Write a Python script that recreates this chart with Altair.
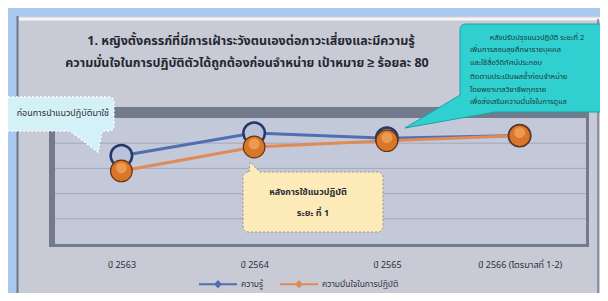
import altair as alt
import pandas as pd

# ---------------- data ----------------
years = ["ปี 2563", "ปี 2564", "ปี 2565", "ปี 2566 (ไตรมาสที่ 1-2)"]
series_names = ["ความรู้", "ความมั่นใจในการปฏิบัติ"]
knowledge = [85, 94, 92, 93]
confidence = [79, 88.5, 91, 93]
grid_values = [60, 70, 80, 90]

title_lines = [
    "1. หญิงตั้งครรภ์ที่มีการเฝ้าระวังตนเองต่อภาวะเสี่ยงและมีความรู้",
    "ความมั่นใจในการปฏิบัติตัวได้ถูกต้องก่อนจำหน่าย เป้าหมาย ≥ ร้อยละ 80",
]
left_note = "ก่อนการนำแนวปฏิบัติมาใช้"
mid_note = ["หลังการใช้แนวปฏิบัติ", "ระยะ ที่ 1"]
right_note = [
    "หลังปรับปรุงแนวปฏิบัติ ระยะที่ 2",
    "เพิ่มการสอนสุขศึกษารายบุคคล",
    "และใช้สื่อวีดิทัศน์ประกอบ",
    "ติดตามประเมินผลซ้ำก่อนจำหน่าย",
    "โดยพยาบาลวิชาชีพทุกราย",
    "เพื่อส่งเสริมความมั่นใจในการดูแล",
]

df = pd.DataFrame({
    "year": years * 2,
    "series": [series_names[0]] * len(years) + [series_names[1]] * len(years),
    "value": knowledge + confidence,
})
grid_df = pd.DataFrame({"v": grid_values})

FONT = "Noto Sans Thai, Loma, Garuda, Tahoma, Noto Sans, sans-serif"
BLUE = "#4f6fb2"
ORANGE = "#e08a55"
W, H = 531, 126

one = alt.Data(values=[{"k": 0}])


def rect(x, x2, y, y2, color):
    return alt.Chart(one).mark_rect(color=color, opacity=1).encode(
        x=alt.value(x), x2=alt.value(x2), y=alt.value(y), y2=alt.value(y2))


def rule(x, x2, y, y2, color, width):
    return alt.Chart(one).mark_rule(color=color, strokeWidth=width).encode(
        x=alt.value(x), x2=alt.value(x2), y=alt.value(y), y2=alt.value(y2))


def shape(path, fill, stroke, sw=1.0, dash=None):
    kw = dict(shape=path, size=4, filled=True, fill=fill, stroke=stroke,
              strokeWidth=sw, opacity=1)
    if dash:
        kw["strokeDash"] = dash
    return alt.Chart(one).mark_point(**kw).encode(x=alt.value(0), y=alt.value(0))


def text(s, x, y, size, color="#2b2b36", align="center", weight="normal"):
    return alt.Chart(one).mark_text(
        text=s, font=FONT, fontSize=size, color=color, align=align,
        baseline="middle", fontWeight=weight).encode(x=alt.value(x), y=alt.value(y))


# ---------------- decorations ----------------
frame = rect(-38, 560, -102, 190, "#c8cbd5")
frame_left = rule(-37.5, -37.5, -102, 190, "#6f7788", 2)
frame_top = rule(-36, 560, -99, -99, "#f4f6fa", 3)
frame_right = rule(543, 543, -99, 190, "#8a92a3", 2)

titles = [text(title_lines[0], 196, -77, 12.5, color="#262630", weight="bold"),
          text(title_lines[1], 192, -55, 12.5, color="#262630", weight="bold")]

band = rect(-6, 534, -11, 129, "#737a8c")
plot_fill = rect(0, W, 0, H, "#c3c9d9")

grid = alt.Chart(grid_df).mark_rule(color="#a0a8bb", strokeWidth=1).encode(
    y=alt.Y("v:Q", axis=None, scale=alt.Scale(domain=[50, 100])),
    x=alt.value(0), x2=alt.value(W))

# ---------------- data marks ----------------
xenc = alt.X("year:N", sort=years, scale=alt.Scale(type="point", padding=0.5),
             axis=alt.Axis(title=None, labelAngle=0, domain=False, ticks=False,
                           grid=False, labelPadding=16, labelFontSize=9,
                           labelColor="#2f2f3a", labelFont=FONT, labelLimit=250,
                           zindex=1))
yenc = alt.Y("value:Q", axis=None, scale=alt.Scale(domain=[50, 100]))

legend_sym = "M-1,0H1M-0.14,0L0,-0.14L0.14,0L0,0.14Z"
cenc = alt.Color("series:N", scale=alt.Scale(domain=series_names, range=[BLUE, ORANGE]),
                 legend=alt.Legend(title=None, orient="none", legendX=143, legendY=146,
                                   direction="horizontal", symbolType=legend_sym,
                                   symbolSize=1444, symbolStrokeWidth=2,
                                   symbolFillColor="#2f3550", labelFontSize=8.5,
                                   labelColor="#333340", labelFont=FONT,
                                   columnPadding=12, labelOffset=3, labelLimit=300))

base = alt.Chart(df).encode(x=xenc, y=yenc)
blue_data = base.transform_filter(alt.datum.series == series_names[0])
orange_data = base.transform_filter(alt.datum.series == series_names[1])

blue_line = blue_data.mark_line(strokeWidth=3).encode(color=cenc)
orange_line = orange_data.mark_line(strokeWidth=3).encode(color=cenc)

blue_pts = blue_data.mark_point(filled=True, size=460, fill="#b9c2d8", stroke="#24386a",
                                strokeWidth=2.5, opacity=1)
orange_pts = orange_data.mark_point(filled=True, size=470, fill="#d8772a",
                                    stroke="#6b3510", strokeWidth=1.2, opacity=1)
orange_glow = orange_data.mark_point(filled=True, size=120, fill="#f3a65c",
                                     opacity=0.75, yOffset=-3)

# ---------------- callouts ----------------
left_path = "M-75,-21H53Q59,-21 59,-15V7Q59,13 53,13H47L43,34L15,13H-75Z"
left_call = shape(left_path, "#d4f1f7", "#ffffff", 1.5, [2, 2])
left_txt = text(left_note, 54, -5, 9, align="right")

mid_path = ("M194,54L195,44L205,54H322Q328,54 328,60V108Q328,114 322,114"
            "H194Q188,114 188,108V60Q188,54 194,54Z")
mid_call = shape(mid_path, "#fcebb8", "#9a9280", 1, [2, 2])
mid_txt = [text(mid_note[0], 253, 74, 9, weight="bold"),
           text(mid_note[1], 258, 95, 9, weight="bold")]

right_path = "M411,-94H560V-6H440L350,10L405,-23V-88Q405,-94 411,-94Z"
right_call = shape(right_path, "#30cfd0", "#1aa2a4", 1)
right_txt = [text(right_note[0], 482, -80, 7.5, color="#1d3a3a")]
for i, yy in enumerate([-68, -55, -41, -28, -16]):
    right_txt.append(text(right_note[i + 1], 415, yy, 7.5, color="#1d3a3a", align="left"))

chart = alt.layer(
    frame, frame_left, frame_top, frame_right, *titles,
    band, plot_fill, grid,
    blue_line, orange_line, blue_pts, orange_pts, orange_glow,
    left_call, left_txt, mid_call, *mid_txt, right_call, *right_txt,
).properties(
    width=W, height=H,
    autosize=alt.AutoSizeParams(type="none"),
    padding={"left": 47, "top": 110, "right": 14, "bottom": 49},
    background="#a9c9ef",
).configure_view(stroke=None)

chart.save("out.html", embed_options={"renderer": "svg", "actions": False})
